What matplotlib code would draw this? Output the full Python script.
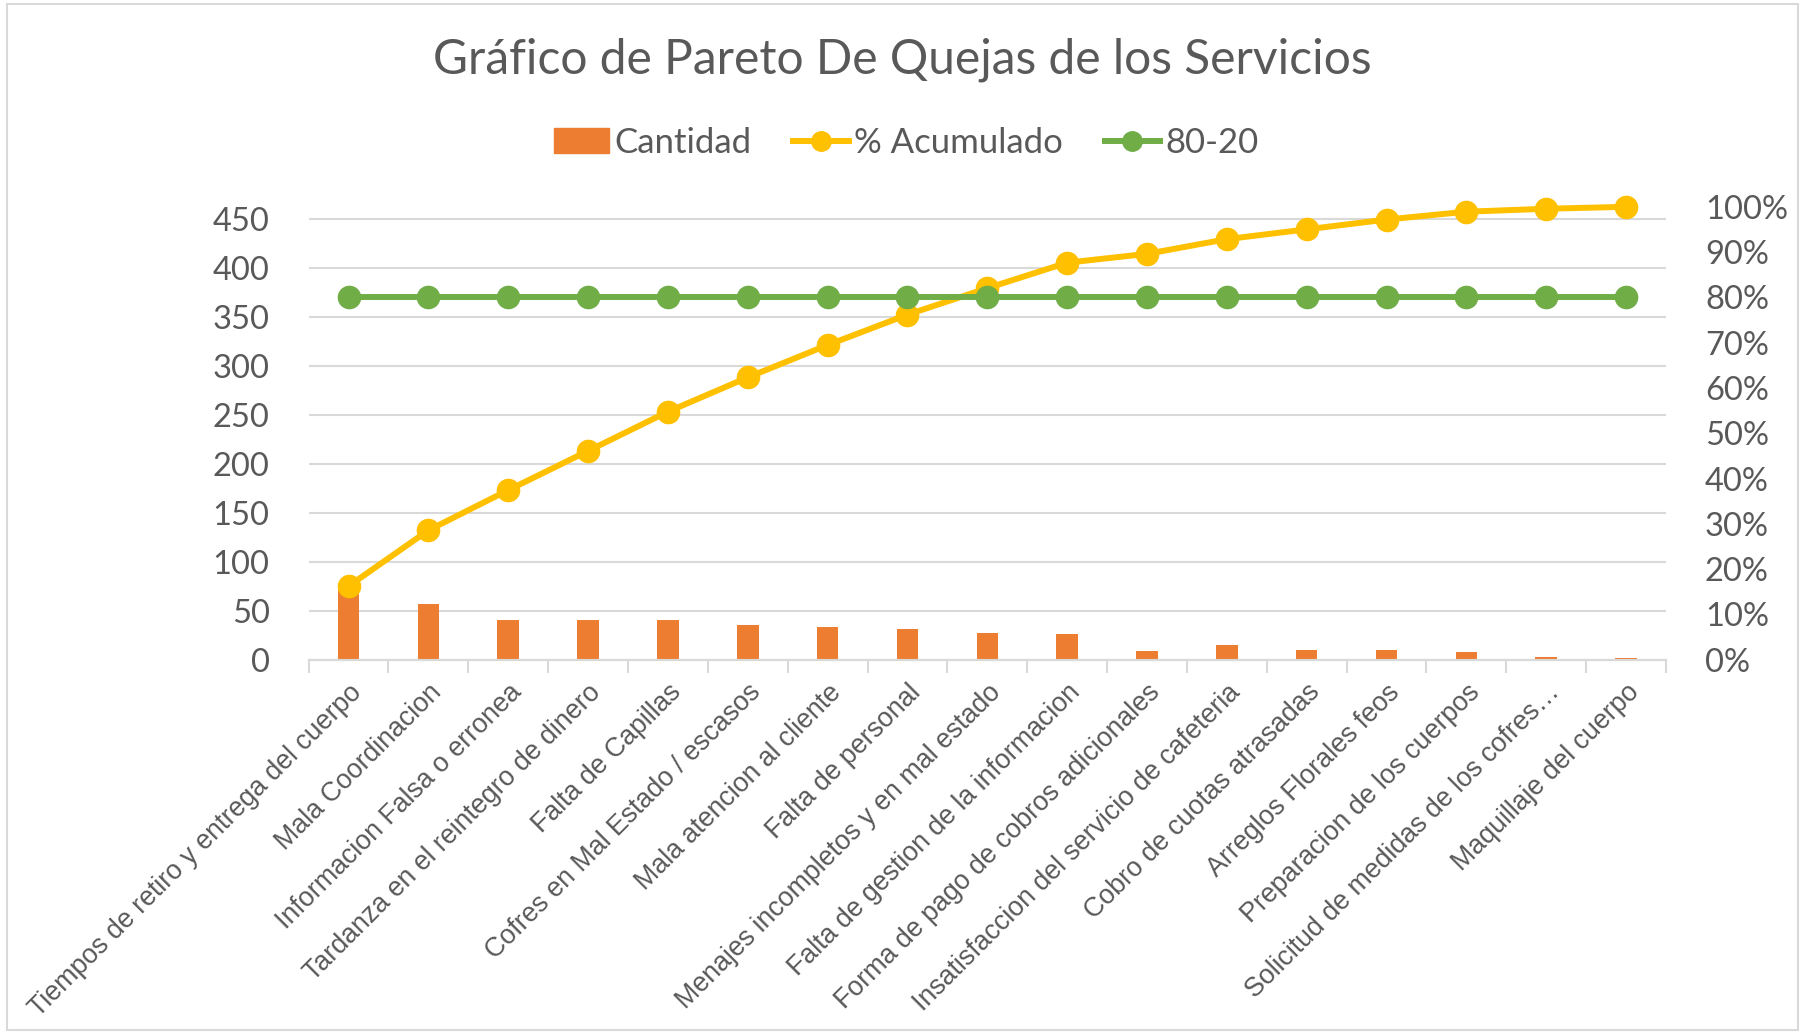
import numpy as np
import matplotlib
matplotlib.use("Agg")
import matplotlib.pyplot as plt
import matplotlib.ticker as ticker
from matplotlib.lines import Line2D
from matplotlib.patches import Patch, Rectangle

categorias = [
    "Tiempos de retiro y entrega del cuerpo",
    "Mala Coordinacion",
    "Informacion Falsa o erronea",
    "Tardanza en el reintegro de dinero",
    "Falta de Capillas",
    "Cofres en Mal Estado / escasos",
    "Mala atencion al cliente",
    "Falta de personal",
    "Menajes incompletos y en mal estado",
    "Falta de gestion de la informacion",
    "Forma de pago de cobros adicionales",
    "Insatisfaccion del servicio de cafeteria",
    "Cobro de cuotas atrasadas",
    "Arreglos Florales feos",
    "Preparacion de los cuerpos",
    "Solicitud de medidas de los cofres…",
    "Maquillaje del cuerpo",
]
cantidad = [75, 57, 41, 40, 40, 35, 33, 31, 27, 26, 9, 15, 10, 10, 8, 3, 2]
linea_80_20 = [0.8] * len(categorias)

total = sum(cantidad)
acumulado = np.cumsum(cantidad) / total

GRIS = "#595959"
NARANJA = "#ED7D31"
AMARILLO = "#FFC000"
VERDE = "#70AD47"
FUENTE = "Lato"

fig = plt.figure(figsize=(18.05, 10.34), dpi=100)
ax = fig.add_axes([0.171, 0.362, 0.752, 0.438])
ax2 = ax.twinx()

x = np.arange(len(categorias))
ax.bar(x, cantidad, width=0.27, color=NARANJA, zorder=2)
ax.set_ylim(0, total)
ax.set_xlim(-0.5, len(categorias) - 0.5)
ax.yaxis.set_major_locator(ticker.FixedLocator(range(0, 451, 50)))
ax.grid(axis="y", color="#D9D9D9", lw=1.5)
ax.set_axisbelow(True)

ax2.plot(x, acumulado, color=AMARILLO, lw=4.3, marker="o", ms=16, zorder=3, clip_on=False)
ax2.plot(x, linea_80_20, color=VERDE, lw=4.3, marker="o", ms=16, zorder=3, clip_on=False)
ax2.set_ylim(0, 1)
ax2.yaxis.set_major_locator(ticker.MultipleLocator(0.1))
ax2.yaxis.set_major_formatter(ticker.FuncFormatter(lambda v, p: f"{v*100:.0f}%"))

for a in (ax, ax2):
    for s in ("top", "left", "right"):
        a.spines[s].set_visible(False)
    a.spines["bottom"].set_color("#D9D9D9")
    a.spines["bottom"].set_linewidth(1.5)

ax.tick_params(axis="y", length=0, pad=28, labelsize=23.5, labelcolor=GRIS)
ax2.tick_params(axis="y", length=0, pad=28, labelsize=23.5, labelcolor=GRIS)
for lab in ax.get_yticklabels() + ax2.get_yticklabels():
    lab.set_fontfamily(FUENTE)

# tick marks between categories, labels on the categories
ax.set_xticks(x)
ax.set_xticks(np.arange(-0.5, len(categorias)), minor=True)
ax.tick_params(axis="x", which="major", length=0, pad=14)
ax.tick_params(axis="x", which="minor", length=9, color="#D9D9D9", width=1.5)
ax.set_xticklabels(categorias, rotation=45, ha="right", va="top",
                   rotation_mode="anchor", fontsize=19.3, color=GRIS,
                   family="Liberation Sans")

fig.text(0.5, 0.942, "Gráfico de Pareto De Quejas de los Servicios",
         ha="center", va="center", fontsize=34.5, color=GRIS, family=FUENTE)

handles = [
    Patch(color=NARANJA, label="Cantidad"),
    Line2D([], [], color=AMARILLO, lw=4.3, marker="o", ms=14, label="% Acumulado"),
    Line2D([], [], color=VERDE, lw=4.3, marker="o", ms=14, label="80-20"),
]
fig.legend(handles=handles, loc="center", bbox_to_anchor=(0.502, 0.862), ncol=3,
           frameon=False, prop={"family": FUENTE, "size": 25}, labelcolor=GRIS,
           handlelength=1.6, handletextpad=0.15, columnspacing=1.2)

fig.patches.append(Rectangle((0.004, 0.004), 0.992, 0.992, transform=fig.transFigure,
                             fill=False, edgecolor="#D9D9D9", lw=1.5))

fig.savefig("out.png", dpi=100)
